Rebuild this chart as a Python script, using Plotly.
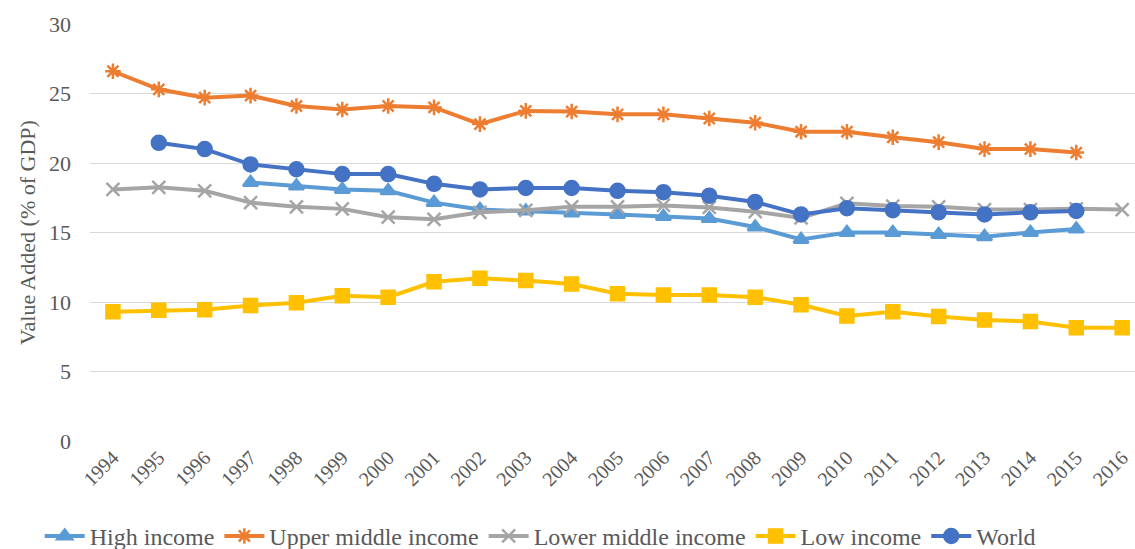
import plotly.graph_objects as go

years = [str(y) for y in range(1994, 2017)]

high_income = [None, None, None, 18.6, 18.35, 18.1, 18.0, 17.15, 16.65, 16.55, 16.4, 16.3,
               16.15, 16.0, 15.4, 14.5, 15.0, 15.0, 14.85, 14.7, 15.0, 15.25, None]
upper_middle_income = [26.6, 25.3, 24.7, 24.85, 24.1, 23.85, 24.1, 24.0, 22.8, 23.75, 23.7, 23.5,
                       23.5, 23.2, 22.9, 22.25, 22.25, 21.85, 21.5, 21.0, 21.0, 20.75, None]
lower_middle_income = [18.1, 18.25, 18.0, 17.15, 16.85, 16.7, 16.1, 15.95, 16.45, 16.6, 16.85, 16.85,
                       16.95, 16.8, 16.5, 16.05, 17.1, 16.9, 16.85, 16.65, 16.65, 16.7, 16.65]
low_income = [9.3, 9.4, 9.45, 9.75, 9.95, 10.45, 10.35, 11.45, 11.7, 11.55, 11.3, 10.6,
              10.5, 10.5, 10.35, 9.8, 9.0, 9.3, 8.95, 8.7, 8.6, 8.15, 8.15]
world = [None, 21.45, 21.0, 19.9, 19.55, 19.2, 19.2, 18.5, 18.1, 18.2, 18.2, 18.0,
         17.9, 17.65, 17.2, 16.3, 16.75, 16.6, 16.45, 16.3, 16.45, 16.55, None]

series = [
    ("High income", high_income, "#5B9BD5", "triangle-up", 13),
    ("Upper middle income", upper_middle_income, "#ED7D31", "asterisk-open", 13),
    ("Lower middle income", lower_middle_income, "#A5A5A5", "x-thin-open", 13),
    ("Low income", low_income, "#FFC000", "square", 13),
    ("World", world, "#4472C4", "circle", 14),
]

fig = go.Figure()
for name, vals, color, symbol, size in series:
    fig.add_trace(go.Scatter(
        x=years, y=vals, name=name, mode="lines+markers",
        line=dict(color=color, width=4),
        marker=dict(symbol=symbol, size=size, color=color,
                    line=dict(color=color, width=2.5)),
        connectgaps=False,
    ))

serif = "Liberation Serif"
grey = "#595959"
fig.update_layout(
    width=1135, height=549,
    margin=dict(l=90, r=0, t=24, b=108, autoexpand=False),
    paper_bgcolor="white", plot_bgcolor="white",
    font=dict(family=serif, color=grey),
    showlegend=True,
    legend=dict(orientation="h", xref="container", x=0.035, xanchor="left",
                yref="container", y=0.064, yanchor="top",
                font=dict(size=24, family=serif, color=grey),
                itemwidth=40, tracegroupgap=0, bgcolor="rgba(0,0,0,0)"),
    xaxis=dict(type="category", range=[-0.5, 22.28], tickangle=-45, automargin=False,
               tickfont=dict(size=20, family=serif, color=grey),
               showgrid=False, showline=False, ticks=""),
    yaxis=dict(range=[0, 30], dtick=5, automargin=False,
               tickfont=dict(size=22, family=serif, color=grey), ticklabelstandoff=18,
               gridcolor="#D9D9D9", gridwidth=1, zeroline=False, ticks="",
               title=dict(text="Value Added (% of GDP)",
                          font=dict(size=22, family=serif, color=grey), standoff=7)),
)

fig.write_html("out.html")
